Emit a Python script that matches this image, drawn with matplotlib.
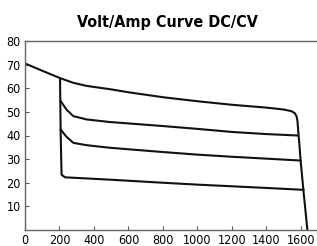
import matplotlib
matplotlib.use("Agg")
import matplotlib.pyplot as plt

# top curve (no load line -> knee -> drop to zero)
top_x = [0, 100, 203, 280, 357, 493, 600, 800, 1000, 1200, 1400, 1500, 1545, 1565, 1575, 1580, 1584, 1590, 1598, 1614, 1640]
top_y = [70.5, 67.4, 64.3, 62.3, 61.0, 59.6, 58.3, 56.2, 54.5, 53.0, 51.8, 51.0, 50.3, 49.4, 48.0, 46.0, 42.0, 37.0, 29.4, 17.0, -2.0]

# lower curves
c2_x = [207, 240, 280, 357, 493, 800, 1000, 1200, 1400, 1579]
c2_y = [54.6, 51.0, 48.2, 46.8, 45.7, 44.0, 42.8, 41.5, 40.6, 40.0]
c3_x = [207, 240, 280, 357, 493, 800, 1000, 1200, 1400, 1598]
c3_y = [42.5, 39.5, 36.9, 35.9, 34.8, 33.0, 31.9, 31.0, 30.2, 29.4]
c4_x = [203, 207, 212, 232, 493, 800, 1000, 1200, 1400, 1614]
c4_y = [64.3, 40.0, 23.4, 22.3, 21.3, 20.0, 19.2, 18.5, 17.8, 17.0]

yticks = [10, 20, 30, 40, 50, 60, 70, 80]
xticks = [0, 200, 400, 600, 800, 1000, 1200, 1400, 1600]

plt.rcParams['font.family'] = ['Liberation Sans Narrow', 'DejaVu Sans']
plt.rcParams['font.stretch'] = 'condensed'

fig = plt.figure(figsize=(3.17, 2.46), dpi=100)
ax = fig.add_axes([25 / 317, 1 - 230 / 246, 1 - 25 / 317, (230 - 41) / 246])
for xs, ys in [(top_x, top_y), (c2_x, c2_y), (c3_x, c3_y), (c4_x, c4_y)]:
    ax.plot(xs, ys, color="#111111", lw=1.5, solid_joinstyle="round")

ax.set_xlim(0, 1693)
ax.set_ylim(0, 80)
ax.set_xticks(xticks)
ax.set_yticks(yticks)
ax.tick_params(direction="in", length=3, width=0.8, color="#555555", labelsize=9, pad=3)
for s in ("left", "bottom", "top"):
    ax.spines[s].set_color("#666666")
    ax.spines[s].set_linewidth(1.0)
ax.spines["right"].set_visible(False)
fig.text(167 / 317, 1 - 23 / 246, "Volt/Amp Curve DC/CV", ha="center", va="center",
         fontsize=11.5, fontweight="bold")
fig.savefig("out.png", dpi=100)
